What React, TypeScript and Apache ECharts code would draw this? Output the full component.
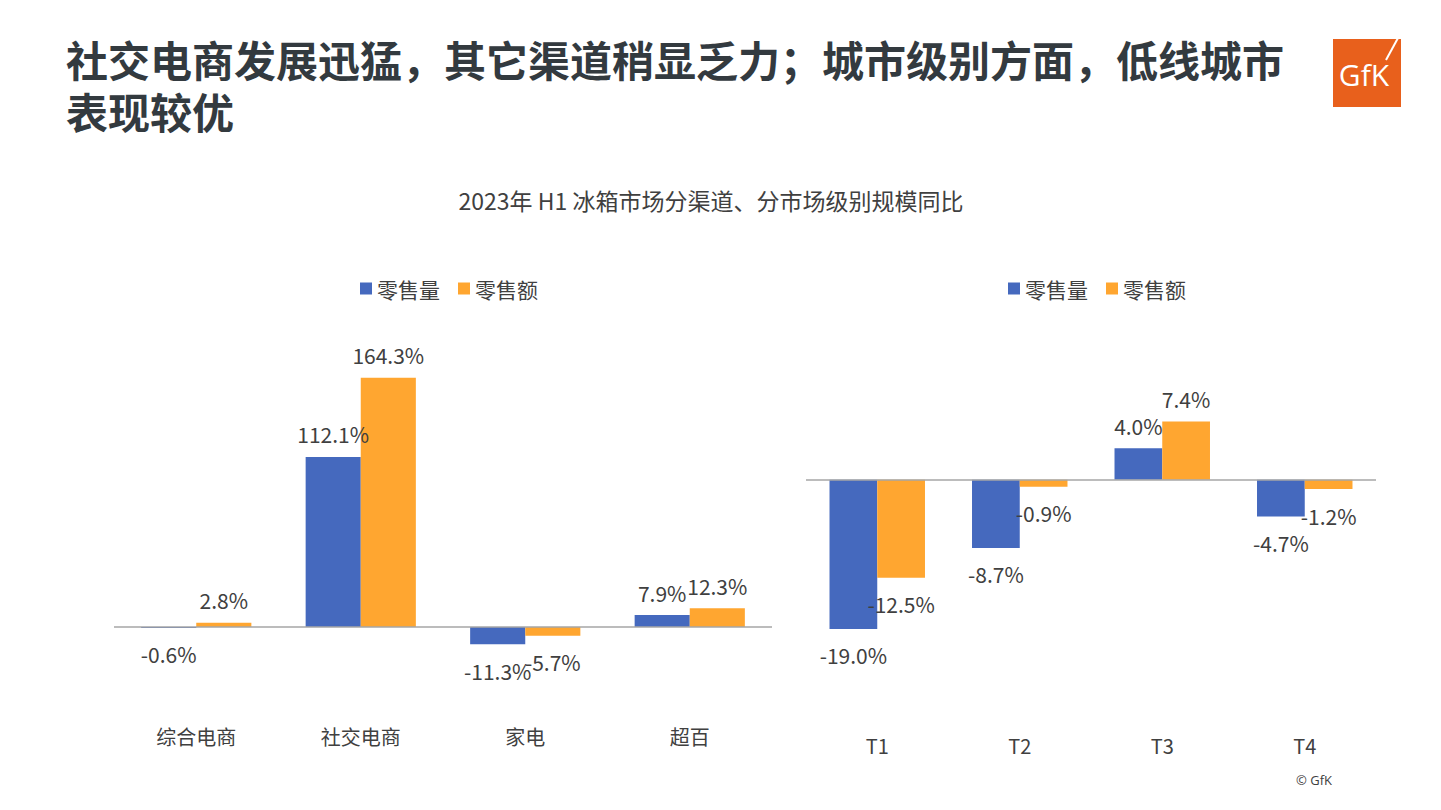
import React, { useEffect, useRef } from "react";
import * as echarts from "echarts";

const channelCats = ["综合电商", "社交电商", "家电", "超百"];
const channelVolume = [-0.6, 112.1, -11.3, 7.9];
const channelValue = [2.8, 164.3, -5.7, 12.3];

const tierCats = ["T1", "T2", "T3", "T4"];
const tierVolume = [-19.0, -8.7, 4.0, -4.7];
const tierValue = [-12.5, -0.9, 7.4, -1.2];

const seriesNames = ["零售量", "零售额"];

const titleLine1 = "社交电商发展迅猛，其它渠道稍显乏力；城市级别方面，低线城市";
const titleLine2 = "表现较优";
const subTitle = "2023年 H1 冰箱市场分渠道、分市场级别规模同比";

const BLUE = "#4569BE";
const ORANGE = "#FFA630";
const TXT = "#404040";
const FONT = "'Noto Sans CJK SC', 'Noto Sans', sans-serif";

function toData(vals: number[]) {
  return vals.map((v) => ({
    value: v,
    label: { position: v < 0 ? "bottom" : "top", distance: v < 0 ? 16 : 12 },
  }));
}

export default function App() {
  const ref = useRef<HTMLDivElement>(null);
  useEffect(() => {
    if (!ref.current) return;
    const chart = echarts.init(ref.current, undefined, { renderer: "svg" });
    const labelCfg = {
      show: true,
      formatter: (p: any) => p.value.toFixed(1) + "%",
      fontSize: 21,
      color: TXT,
      fontFamily: FONT,
    };
    const zeroLine = {
      symbol: "none",
      silent: true,
      label: { show: false },
      lineStyle: { color: "#A6A6A6", width: 1.5, type: "solid" },
      data: [{ yAxis: 0 }],
    };
    const bar = (name: string, color: string, vals: number[], idx: number, mark: boolean) => ({
      type: "bar",
      name,
      xAxisIndex: idx,
      yAxisIndex: idx,
      data: toData(vals),
      itemStyle: { color },
      barGap: "0%",
      barCategoryGap: "33%",
      label: labelCfg,
      ...(mark ? { markLine: zeroLine } : {}),
    });
    const xAxisCfg = (cats: string[], gridIndex: number, margin: number) => ({
      type: "category",
      gridIndex,
      data: cats,
      axisLine: { show: false, onZero: false },
      axisTick: { show: false },
      axisLabel: { fontSize: 20, color: TXT, fontFamily: FONT, margin },
    });
    const legendCfg = (left: number) => ({
      data: seriesNames,
      left,
      top: 273,
      icon: "rect",
      itemWidth: 12,
      itemHeight: 12,
      itemGap: 18,
      textStyle: { fontSize: 21, color: TXT, fontFamily: FONT },
    });
    chart.setOption({
      animation: false,
      textStyle: { fontFamily: FONT },
      grid: [
        { left: 114, width: 658, top: 354, height: 364 },
        { left: 806, width: 570, top: 354, height: 377 },
      ],
      xAxis: [xAxisCfg(channelCats, 0, 8), xAxisCfg(tierCats, 1, 4)],
      yAxis: [
        { type: "value", gridIndex: 0, min: -60, max: 180, show: false },
        { type: "value", gridIndex: 1, min: -32, max: 16, show: false },
      ],
      legend: [legendCfg(355), legendCfg(1003)],
      series: [
        bar(seriesNames[0], BLUE, channelVolume, 0, true),
        bar(seriesNames[1], ORANGE, channelValue, 0, false),
        bar(seriesNames[0], BLUE, tierVolume, 1, true),
        bar(seriesNames[1], ORANGE, tierValue, 1, false),
      ],
      graphic: [
        {
          type: "text",
          x: 66,
          y: 58,
          style: {
            text: titleLine1,
            font: `bold 42px ${FONT}`,
            fill: "#333A3F",
            lineHeight: 46,
            verticalAlign: "middle",
          },
        },
        {
          type: "text",
          x: 66,
          y: 110,
          style: {
            text: titleLine2,
            font: `bold 42px ${FONT}`,
            fill: "#333A3F",
            lineHeight: 46,
            verticalAlign: "middle",
          },
        },
        {
          type: "text",
          x: 711,
          y: 200,
          style: {
            text: subTitle,
            font: `23px ${FONT}`,
            fill: TXT,
            align: "center",
            verticalAlign: "middle",
          },
        },
        { type: "rect", shape: { x: 1333, y: 39, width: 68, height: 68 }, style: { fill: "#E8601C" } },
        {
          type: "text",
          x: 1364,
          y: 74,
          style: {
            text: "GfK",
            font: `30px 'Open Sans', sans-serif`,
            fill: "#FFFFFF",
            align: "center",
            verticalAlign: "middle",
          },
        },
        {
          type: "line",
          shape: { x1: 1386, y1: 60, x2: 1398, y2: 38 },
          style: { stroke: "#FFFFFF", lineWidth: 2 },
        },
        {
          type: "text",
          x: 1314,
          y: 780,
          style: {
            text: "© GfK",
            font: `13px 'Open Sans', sans-serif`,
            fill: TXT,
            align: "center",
            verticalAlign: "middle",
          },
        },
      ],
    });
    return () => chart.dispose();
  }, []);
  return (
    <div
      ref={ref}
      style={{ position: "fixed", left: 0, top: 0, width: 1441, height: 810, background: "#fff" }}
    />
  );
}
